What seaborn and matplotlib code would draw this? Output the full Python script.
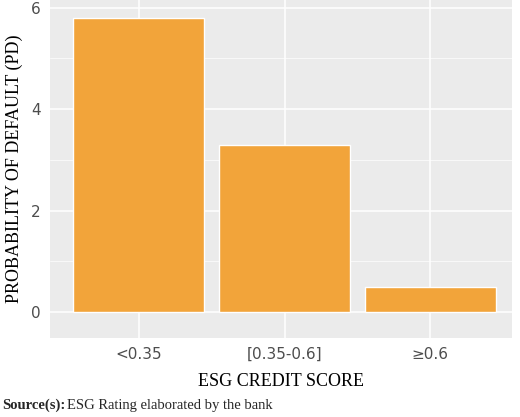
import matplotlib
matplotlib.use("Agg")
import matplotlib.pyplot as plt
import seaborn as sns
import pandas as pd

categories = ["<0.35", "[0.35-0.6]", "≥0.6"]
pd_values = [5.8, 3.3, 0.5]

df = pd.DataFrame({"score": categories, "pd": pd_values})

sns.set_theme(style="darkgrid", rc={"axes.facecolor": "#EBEBEB", "grid.color": "white"})
fig = plt.figure(figsize=(5.2, 4.17), dpi=100)
ax = fig.add_axes([50 / 520, 79 / 417, 462 / 520, 338 / 417])

sns.barplot(data=df, x="score", y="pd", color="#F2A43A", saturation=1, width=0.9, ax=ax)
ax.set_xlim(-0.61, 2.56)
ax.set_ylim(-0.51, 6.15)
ax.set_yticks([0, 2, 4, 6])
ax.set_yticks([1, 3, 5], minor=True)
ax.grid(which="major", color="white", linewidth=1.1)
ax.grid(which="minor", axis="y", color="white", linewidth=0.5)
ax.tick_params(axis="both", colors="#4D4D4D", labelsize=11, length=3, which="major")
ax.tick_params(which="minor", length=0)
for s in ax.spines.values():
    s.set_visible(False)

ax.set_xlabel("ESG CREDIT SCORE", family="Liberation Serif", fontsize=13, color="black", labelpad=8)
ax.set_ylabel("PROBABILITY OF DEFAULT (PD)", family="Liberation Serif", fontsize=13, color="black", labelpad=6)

fig.text(0.005, 405 / 417, "Source(s):", family="Liberation Serif", fontsize=10.5,
         weight="bold", va="center", ha="left")
fig.text(0.128, 405 / 417, "ESG Rating elaborated by the bank", family="Liberation Serif",
         fontsize=10.5, va="center", ha="left")
# fix: place source row at bottom
for t in fig.texts:
    x, y = t.get_position()
    t.set_position((x, 1 - y))

fig.savefig("out.png", dpi=100)
